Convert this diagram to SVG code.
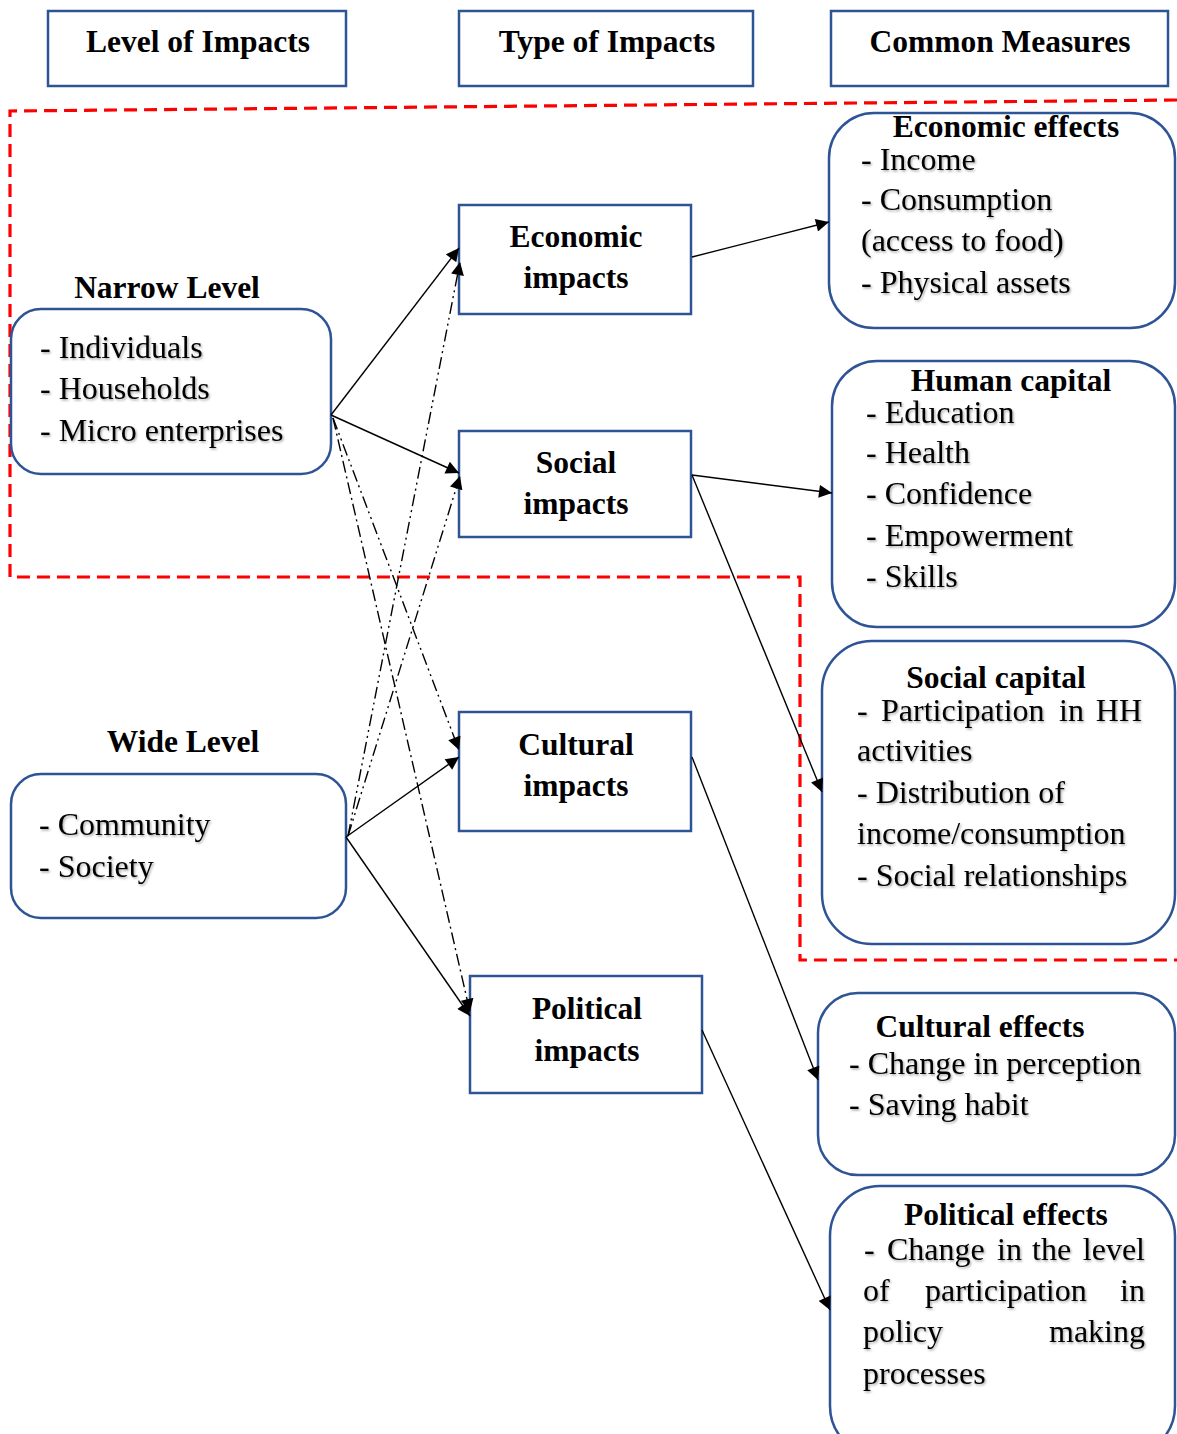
<svg xmlns="http://www.w3.org/2000/svg" width="1177" height="1434" viewBox="0 0 1177 1434">
<defs>
<style>
.box{fill:#fff;stroke:#2f5496;stroke-width:2.5}
.b{font-family:"Liberation Serif","Times New Roman",serif;font-weight:bold;font-size:31.5px;fill:#000;text-anchor:middle}
.r{font-family:"Liberation Serif","Times New Roman",serif;font-size:32px;fill:#000;filter:url(#sh)}
.c{fill:none;stroke:#000;stroke-width:1.4}
.dd{stroke-dasharray:12 4 2 4 2 4}
.d1{stroke-dasharray:12 4 2 4}
.red{fill:none;stroke:#ff0000;stroke-width:3.2;stroke-dasharray:13 7}
</style>
<filter id="sh" x="-5%" y="-20%" width="110%" height="140%">
<feDropShadow dx="1.2" dy="1.5" stdDeviation="0.9" flood-color="#000" flood-opacity="0.35"/>
</filter>
<marker id="ah" viewBox="0 0 10 10" refX="10" refY="5" markerWidth="15" markerHeight="13" markerUnits="userSpaceOnUse" orient="auto">
<path d="M0,0 L10,5 L0,10 z" fill="#000"/>
</marker>
</defs>

<g id="red-boundary">
<path class="red" d="M1177,100 L10,111 L10,577 L800,577 L800,960 L1177,960"/>
</g>

<g id="header-level"><rect class="box" x="48" y="11" width="298" height="75"/><text class="b" x="198" y="52">Level of Impacts</text></g>
<g id="header-type"><rect class="box" x="459" y="11" width="294" height="75"/><text class="b" x="607" y="52">Type of Impacts</text></g>
<g id="header-measures"><rect class="box" x="831" y="11" width="337" height="75"/><text class="b" x="1000" y="52">Common Measures</text></g>

<g id="narrow-level">
<text class="b" x="167" y="298">Narrow Level</text>
<rect class="box" x="11" y="309" width="320" height="165" rx="30"/>
<text class="r" x="40" y="358">- Individuals</text>
<text class="r" x="40" y="399">- Households</text>
<text class="r" x="40" y="441">- Micro enterprises</text>
</g>

<g id="wide-level">
<text class="b" x="183" y="752">Wide Level</text>
<rect class="box" x="11" y="774" width="335" height="144" rx="30"/>
<text class="r" x="39" y="835">- Community</text>
<text class="r" x="39" y="877">- Society</text>
</g>

<g id="economic-impacts"><rect class="box" x="459" y="205" width="232" height="109"/><text class="b" x="576" y="247">Economic</text><text class="b" x="576" y="288">impacts</text></g>
<g id="social-impacts"><rect class="box" x="459" y="431" width="232" height="106"/><text class="b" x="576" y="473">Social</text><text class="b" x="576" y="514">impacts</text></g>
<g id="cultural-impacts"><rect class="box" x="459" y="712" width="232" height="119"/><text class="b" x="576" y="755">Cultural</text><text class="b" x="576" y="796">impacts</text></g>
<g id="political-impacts"><rect class="box" x="470" y="976" width="232" height="117"/><text class="b" x="587" y="1019">Political</text><text class="b" x="587" y="1061">impacts</text></g>

<g id="economic-effects">
<rect class="box" x="829" y="113" width="346" height="215" rx="45"/>
<text class="b" x="1006" y="137">Economic effects</text>
<text class="r" x="861" y="170">- Income</text>
<text class="r" x="861" y="210">- Consumption</text>
<text class="r" x="861" y="251">(access to food)</text>
<text class="r" x="861" y="293">- Physical assets</text>
</g>

<g id="human-capital">
<rect class="box" x="832" y="361" width="343" height="266" rx="45"/>
<text class="b" x="1011" y="391">Human capital</text>
<text class="r" x="866" y="423">- Education</text>
<text class="r" x="866" y="463">- Health</text>
<text class="r" x="866" y="504">- Confidence</text>
<text class="r" x="866" y="546">- Empowerment</text>
<text class="r" x="866" y="587">- Skills</text>
</g>

<g id="social-capital">
<rect class="box" x="822" y="641" width="353" height="303" rx="50"/>
<text class="b" x="996" y="688">Social capital</text>
<text class="r" y="721"><tspan x="857">-</tspan><tspan x="881">Participation</tspan><tspan x="1059">in</tspan><tspan x="1142" text-anchor="end">HH</tspan></text>
<text class="r" x="857" y="761">activities</text>
<text class="r" x="857" y="803">- Distribution of</text>
<text class="r" x="857" y="844">income/consumption</text>
<text class="r" x="857" y="886">- Social relationships</text>
</g>

<g id="cultural-effects">
<rect class="box" x="818" y="993" width="357" height="182" rx="40"/>
<text class="b" x="980" y="1037">Cultural effects</text>
<text class="r" x="849" y="1074">- Change in perception</text>
<text class="r" x="849" y="1115">- Saving habit</text>
</g>

<g id="political-effects">
<rect class="box" x="830" y="1186" width="345" height="270" rx="50"/>
<text class="b" x="1006" y="1225">Political effects</text>
<text class="r" y="1260"><tspan x="864">-</tspan><tspan x="887">Change</tspan><tspan x="997">in</tspan><tspan x="1032">the</tspan><tspan x="1145" text-anchor="end">level</tspan></text>
<text class="r" y="1301"><tspan x="863">of</tspan><tspan x="925">participation</tspan><tspan x="1145" text-anchor="end">in</tspan></text>
<text class="r" y="1342"><tspan x="863">policy</tspan><tspan x="1145" text-anchor="end">making</tspan></text>
<text class="r" x="863" y="1384">processes</text>
</g>

<g id="connectors">
<line class="c" x1="331" y1="415" x2="459" y2="248" marker-end="url(#ah)"/>
<line class="c" x1="331" y1="415" x2="459" y2="473" marker-end="url(#ah)"/>
<line class="c" x1="346" y1="837" x2="459" y2="757" marker-end="url(#ah)"/>
<line class="c" x1="346" y1="837" x2="470" y2="1016" marker-end="url(#ah)"/>
<line class="c dd" x1="333" y1="418" x2="459" y2="750" marker-end="url(#ah)"/>
<line class="c d1" x1="333" y1="418" x2="470" y2="1012" marker-end="url(#ah)"/>
<line class="c dd" x1="348" y1="836" x2="460" y2="262" marker-end="url(#ah)"/>
<line class="c dd" x1="348" y1="836" x2="460" y2="476" marker-end="url(#ah)"/>
<line class="c" x1="692" y1="257" x2="829" y2="222" marker-end="url(#ah)"/>
<line class="c" x1="692" y1="475" x2="832" y2="493" marker-end="url(#ah)"/>
<line class="c" x1="692" y1="475" x2="822" y2="792" marker-end="url(#ah)"/>
<line class="c" x1="692" y1="757" x2="818" y2="1080" marker-end="url(#ah)"/>
<line class="c" x1="702" y1="1030" x2="830" y2="1310" marker-end="url(#ah)"/>
</g>
</svg>
